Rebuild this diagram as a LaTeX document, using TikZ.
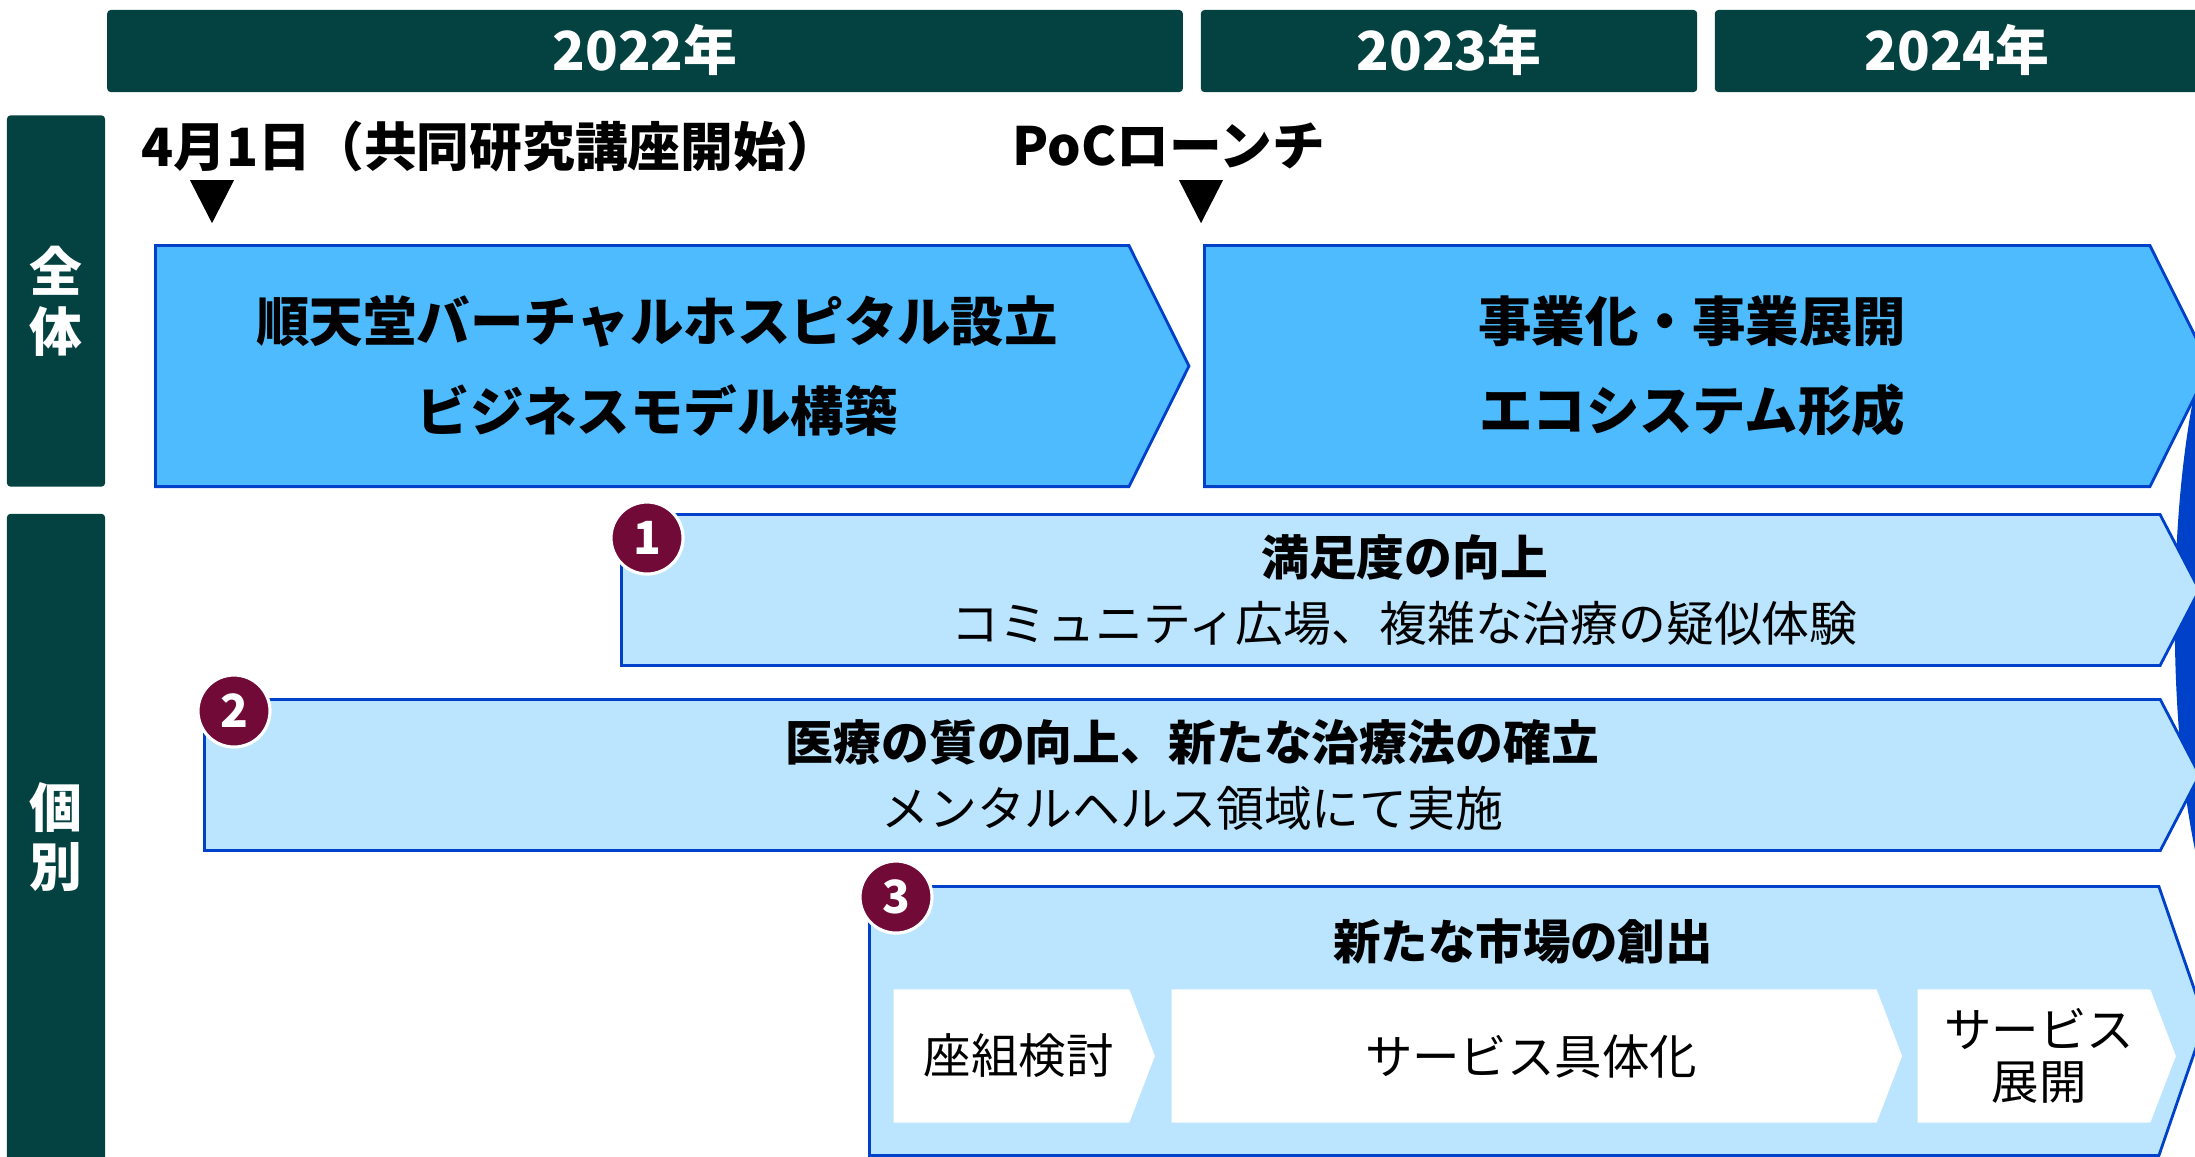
\documentclass[tikz,border=0pt]{standalone}
\usepackage{fontspec}
\setmainfont{Noto Sans CJK JP}
\usetikzlibrary{shapes.symbols,shapes.geometric}

\definecolor{hdrTeal}{HTML}{034241}
\definecolor{arrBlue}{HTML}{4DBBFE}
\definecolor{barBlue}{HTML}{BBE5FE}
\definecolor{lineBlue}{HTML}{0041C9}
\definecolor{numRed}{HTML}{720A37}

\tikzstyle{hS}=[rectangle,fill=hdrTeal,text=white,rounded corners=1pt,inner sep=0pt,minimum height=0.82cm,font=\fontsize{15.3}{17}\selectfont\bfseries]
\tikzstyle{sS}=[rectangle,fill=hdrTeal,text=white,rounded corners=1pt,inner sep=0pt,minimum width=0.98cm,align=center,font=\fontsize{15}{17}\selectfont\bfseries]
\tikzstyle{mS}=[anchor=west,inner sep=0pt,font=\fontsize{15}{16}\selectfont\bfseries]
\tikzstyle{tS}=[isosceles triangle,isosceles triangle stretches,fill=black,inner sep=0pt,minimum width=0.44cm,minimum height=0.43cm,shape border rotate=-90,anchor=apex]
\tikzstyle{aS}=[signal,signal to=east,draw=lineBlue,line width=0.8pt,fill=arrBlue,anchor=west,inner sep=0pt,minimum height=2.41cm,signal pointer angle=127,align=center,font=\fontsize{15.2}{25.5}\selectfont\bfseries]
\tikzstyle{bS}=[signal,signal to=east,draw=lineBlue,line width=0.8pt,fill=barBlue,anchor=west,inner sep=0pt,minimum height=1.51cm,signal pointer angle=125,align=center,font=\fontsize{13.6}{18.7}\selectfont]
\tikzstyle{cS}=[signal,signal to=east,fill=white,anchor=west,inner sep=0pt,minimum height=1.33cm,signal pointer angle=138,align=center,font=\fontsize{13.5}{14.7}\selectfont]
\tikzstyle{nS}=[circle,fill=numRed,draw=white,line width=0.9pt,minimum size=0.72cm,inner sep=0pt,text=white,font=\fontsize{13}{13}\selectfont\bfseries]

\begin{document}
\begin{tikzpicture}[x=0.01cm,y=-0.01cm]
    \useasboundingbox (0,0) rectangle (2195,1156);
    \clip (0,0) rectangle (2195,1156);
    % year headers
    \draw (645,51) node[hS,minimum width=10.75cm,text depth=0.08cm] (y22) {2022年};
    \draw (1449,51) node[hS,minimum width=4.96cm,text depth=0.08cm] (y23) {2023年};
    \draw (1957,51) node[hS,minimum width=4.84cm,text depth=0.08cm] (y24) {2024年};
    % side labels
    \draw (56,301) node[sS,minimum height=3.71cm] (all) {全\\体};
    \draw (56,837) node[sS,minimum height=6.46cm] (each) {個\\別};
    % milestones
    \draw (141,146) node[mS] (m1) {4月1日（共同研究講座開始）};
    \draw (1012,146) node[mS] (m2) {PoCローンチ};
    \draw (212,225) node[tS] (t1) {};
    \draw (1201,225) node[tS] (t2) {};
    % blue band behind the bars
    \fill[lineBlue] (2195,390) .. controls (2168,520) and (2168,720) .. (2195,850) -- cycle;
    % overall phases
    \draw (154,366) node[aS,minimum width=10.33cm] (p1) {\hspace*{0.3cm}順天堂バーチャルホスピタル設立\\\hspace*{0.3cm}ビジネスモデル構築};
    \draw (1203,366) node[aS,minimum width=10.05cm] (p2) {\hspace*{0.3cm}事業化・事業展開\\\hspace*{0.3cm}エコシステム形成};
    % individual themes
    \draw (620,590) node[bS,minimum width=15.77cm] (b1) {\hspace*{0.28cm}{\bfseries 満足度の向上}\\\hspace*{0.28cm}コミュニティ広場、複雑な治療の疑似体験};
    \draw (203,775) node[bS,minimum width=19.94cm] (b2) {\hspace*{0.2cm}{\bfseries 医療の質の向上、新たな治療法の確立}\\\hspace*{0.2cm}メンタルヘルス領域にて実施};
    \draw (868,1021) node[bS,minimum width=13.35cm,minimum height=2.69cm,signal pointer angle=142] (b3) {};
    \draw (1523,941) node[font=\fontsize{13.5}{15}\selectfont\bfseries] (b3t) {新たな市場の創出};
    \draw (893,1056) node[cS,minimum width=2.61cm] (c1) {\hspace*{0.14cm}座組検討};
    \draw (1171,1056) node[cS,minimum width=7.30cm] (c2) {\hspace*{0.14cm}サービス具体化};
    \draw (1917,1056) node[cS,minimum width=2.58cm] (c3) {\hspace*{0.1cm}サービス\\\hspace*{0.1cm}展開};
    % numbers
    \draw (647,538) node[nS] (n1) {1};
    \draw (234,711) node[nS] (n2) {2};
    \draw (896,897) node[nS] (n3) {3};
\end{tikzpicture}
\end{document}
